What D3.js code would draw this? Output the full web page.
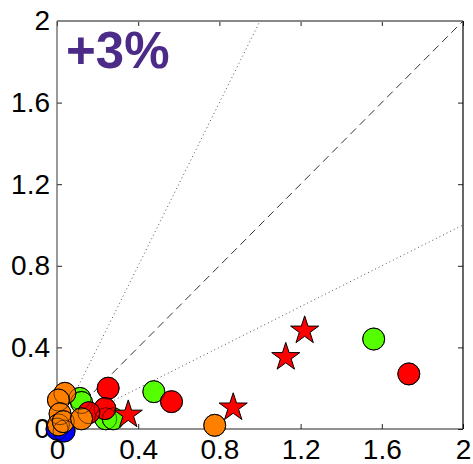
<!DOCTYPE html>
<html>
<head>
<meta charset="utf-8">
<script src="https://cdn.jsdelivr.net/npm/d3@7"></script>
<style>
  html, body { margin: 0; padding: 0; background: #fff; }
  svg { display: block; }
</style>
</head>
<body>
<svg id="chart" width="473" height="464"></svg>
<script>
// ---- data ----
const xTicks = [0, 0.4, 0.8, 1.2, 1.6, 2];
const yTicks = [0, 0.4, 0.8, 1.2, 1.6, 2];
const xTickLabels = ["0", "0.4", "0.8", "1.2", "1.6", "2"];
const yTickLabels = ["0", "0.4", "0.8", "1.2", "1.6", "2"];

const blueCircles = [[0.0, 0.0], [0.035, -0.01]];
const greenCircles = [[0.477, 0.183], [1.56, 0.441], [0.113, 0.15], [0.121, 0.13], [0.24, 0.05], [0.277, 0.05]];
const redCircles = [[0.252, 0.20], [0.564, 0.134], [1.733, 0.27], [0.236, 0.10], [0.157, 0.08]];
const orangeCircles = [[0.039, 0.175], [0.007, 0.142], [0.015, 0.075], [0.007, 0.02], [0.031, 0.036], [0.121, 0.05], [0.777, 0.018]];
const redStars = [[0.351, 0.07], [0.868, 0.105], [1.127, 0.352], [1.22, 0.482]];

const refLines = [
  { slope: 1, dash: "8,5" },
  { slope: 2, dash: "1,3" },
  { slope: 0.5, dash: "1,3" }
];
const annotation = "+3%";

// ---- chart ----
const svg = d3.select("#chart");
const x = d3.scaleLinear().domain([0, 2]).range([57, 463]);
const y = d3.scaleLinear().domain([0, 2]).range([429, 21]);

// reference lines
refLines.forEach(l => {
  const xEnd = Math.min(2, 2 / l.slope);
  svg.append("line")
    .attr("x1", x(0)).attr("y1", y(0))
    .attr("x2", x(xEnd)).attr("y2", y(xEnd * l.slope))
    .attr("stroke", l.slope === 1 ? "#333" : "#555")
    .attr("stroke-width", 1)
    .attr("stroke-dasharray", l.dash);
});

// axes
const fontFam = "'Liberation Sans', Arial, sans-serif";
const xAxis = svg.append("g").attr("transform", `translate(0,${y(0)})`)
  .call(d3.axisBottom(x).tickValues(xTicks).tickFormat((d, i) => xTickLabels[i])
    .tickSizeInner(-5).tickSizeOuter(0).tickPadding(10));
const yAxis = svg.append("g").attr("transform", `translate(${x(0)},0)`)
  .call(d3.axisLeft(y).tickValues(yTicks).tickFormat((d, i) => yTickLabels[i])
    .tickSizeInner(-5).tickSizeOuter(0).tickPadding(7));
// mirrored ticks
svg.append("g").attr("transform", `translate(0,${y(2)})`)
  .call(d3.axisTop(x).tickValues(xTicks).tickFormat("").tickSizeInner(-5).tickSizeOuter(0));
svg.append("g").attr("transform", `translate(${x(2)},0)`)
  .call(d3.axisRight(y).tickValues(yTicks).tickFormat("").tickSizeInner(-5).tickSizeOuter(0));

svg.selectAll(".domain").remove();
svg.selectAll(".tick line").attr("stroke", "#222");
[xAxis, yAxis].forEach(g => g.selectAll("text")
  .attr("font-family", fontFam).attr("font-size", 28).attr("fill", "#000"));

// box
svg.append("line").attr("x1", x(0)).attr("x2", x(2)).attr("y1", y(2)).attr("y2", y(2))
  .attr("stroke", "#888").attr("stroke-width", 2);
svg.append("line").attr("x1", x(2)).attr("x2", x(2)).attr("y1", y(2)).attr("y2", y(0))
  .attr("stroke", "#000").attr("stroke-width", 1.2);
svg.append("line").attr("x1", x(0)).attr("x2", x(0)).attr("y1", y(2)).attr("y2", y(0))
  .attr("stroke", "#555").attr("stroke-width", 1.2);
svg.append("line").attr("x1", x(0)).attr("x2", x(2)).attr("y1", y(0)).attr("y2", y(0))
  .attr("stroke", "#222").attr("stroke-width", 1.2);

// annotation
svg.append("text").attr("x", 66).attr("y", 68)
  .attr("font-family", fontFam).attr("font-weight", "bold").attr("font-size", 51)
  .attr("fill", "#4b2a88").text(annotation);

// markers
const R = 11;
const circleGroups = [
  { data: blueCircles, color: "#0000ff" },
  { data: greenCircles, color: "#55ff00" },
  { data: redCircles, color: "#ff0000" },
  { data: orangeCircles, color: "#ff8000" }
];
const fills = svg.append("g");
const strokes = svg.append("g");
circleGroups.forEach(g => {
  fills.selectAll(null).data(g.data).enter().append("circle")
    .attr("cx", d => x(d[0])).attr("cy", d => y(d[1])).attr("r", R)
    .attr("fill", g.color).attr("stroke", "#000").attr("stroke-width", 1);
  strokes.selectAll(null).data(g.data).enter().append("circle")
    .attr("cx", d => x(d[0])).attr("cy", d => y(d[1])).attr("r", R)
    .attr("fill", "none").attr("stroke", "#000").attr("stroke-opacity", 0.55).attr("stroke-width", 1);
});

function starPath(cx, cy, Ro) {
  const ri = Ro * 0.382;
  const pts = [];
  for (let i = 0; i < 10; i++) {
    const a = -Math.PI / 2 + i * Math.PI / 5;
    const rr = i % 2 === 0 ? Ro : ri;
    pts.push([cx + rr * Math.cos(a), cy + rr * Math.sin(a)]);
  }
  return "M" + pts.map(p => p.join(",")).join("L") + "Z";
}
svg.append("g").selectAll("path").data(redStars).enter().append("path")
  .attr("d", d => starPath(x(d[0]), y(d[1]), 14.8))
  .attr("fill", "#ff0000").attr("stroke", "#000").attr("stroke-width", 1)
  .attr("stroke-linejoin", "miter");
</script>
</body>
</html>
